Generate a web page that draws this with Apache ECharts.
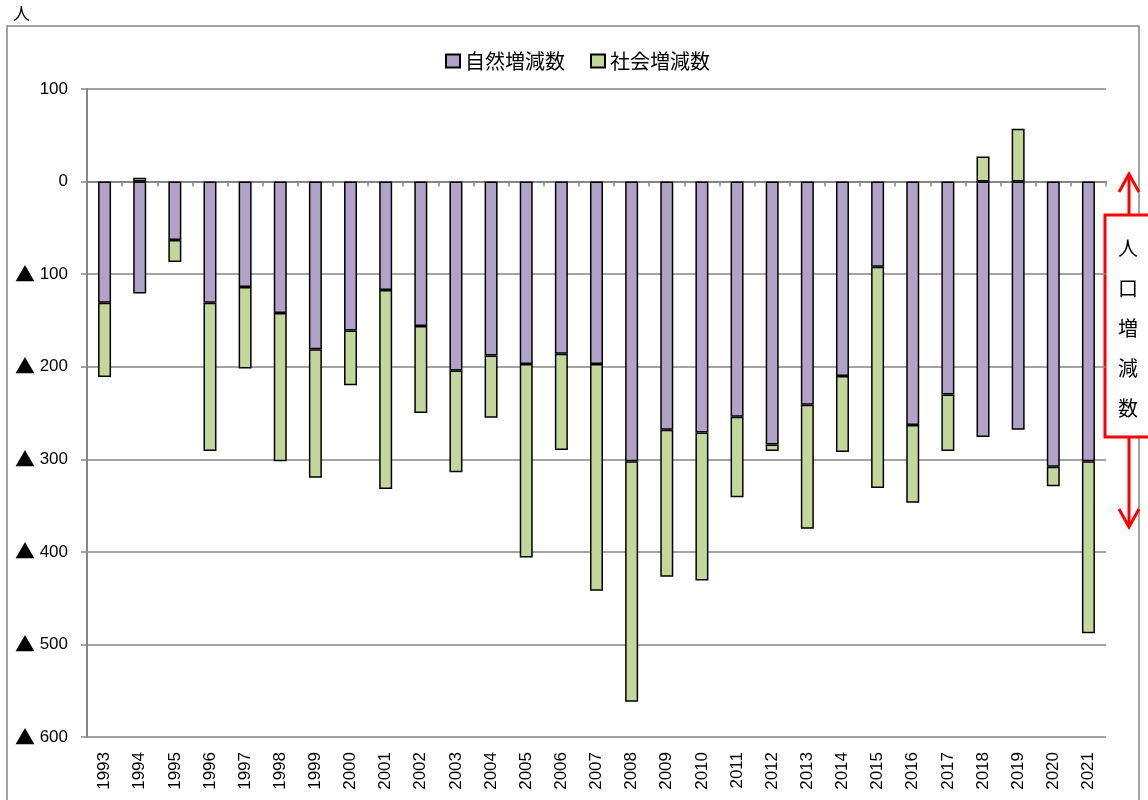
<!DOCTYPE html>
<html>
<head>
<meta charset="utf-8">
<script src="https://cdn.jsdelivr.net/npm/echarts@6/dist/echarts.min.js"></script>
<style>
html, body { margin: 0; padding: 0; background: #fff; }
#main { width: 1148px; height: 800px; }
</style>
</head>
<body>
<div id="main"></div>
<script>
var years = ['1993', '1994', '1995', '1996', '1997', '1998', '1999', '2000', '2001', '2002',
    '2003', '2004', '2005', '2006', '2007', '2008', '2009', '2010', '2011', '2012',
    '2013', '2014', '2015', '2016', '2017', '2018', '2019', '2020', '2021'];
// 自然増減数
var naturalChange = [-131, -121, -63, -131, -114, -142, -181, -161, -117, -156,
    -204, -188, -197, -186, -197, -302, -268, -271, -254, -284,
    -241, -210, -92, -263, -230, -276, -268, -308, -302];
// 社会増減数
var socialChange = [-80, 4, -24, -160, -88, -160, -139, -59, -215, -94,
    -110, -67, -209, -104, -245, -260, -159, -160, -87, -7,
    -134, -82, -239, -84, -61, 27, 57, -21, -186];
var seriesNames = ['自然増減数', '社会増減数'];
var yTicks = { min: -600, max: 100, interval: 100 };

var jpFont = '"Noto Sans CJK JP", sans-serif';
var numFont = '"Liberation Sans", sans-serif';
var gray = '#868686';

var myChart = echarts.init(document.getElementById('main'));

// negative numbers are written with a ▲ in front
function yLabel(v) {
    if (v < 0) return '{tri|▲} ' + Math.abs(v);
    return String(v);
}

var option = {
    animation: false,
    grid: { left: 87, right: 42, top: 89, bottom: 63 },
    legend: {
        data: seriesNames,
        top: 46,
        left: 440,
        icon: 'rect',
        itemWidth: 14,
        itemHeight: 13,
        itemGap: 25,
        textStyle: { fontFamily: jpFont, fontSize: 20, color: '#000' }
    },
    xAxis: [{
        type: 'category',
        data: years,
        axisLine: { onZero: true, lineStyle: { color: gray, width: 2 } },
        axisTick: { show: true, length: 5, lineStyle: { color: gray, width: 1.5 } },
        axisLabel: { show: false }
    }, {
        type: 'category',
        data: years,
        position: 'bottom',
        axisLine: { show: false, onZero: false },
        axisTick: { show: false },
        axisLabel: {
            rotate: 90,
            margin: 15,
            fontFamily: numFont,
            fontSize: 17,
            color: '#000'
        }
    }],
    yAxis: {
        type: 'value',
        min: yTicks.min,
        max: yTicks.max,
        interval: yTicks.interval,
        axisLine: { show: true, lineStyle: { color: gray, width: 2 } },
        axisTick: { show: true, length: 6, lineStyle: { color: gray, width: 1.5 } },
        splitLine: { lineStyle: { color: gray, width: 1.5 } },
        axisLabel: {
            formatter: yLabel,
            margin: 19,
            fontFamily: numFont,
            fontSize: 17,
            color: '#000',
            rich: {
                tri: { fontFamily: jpFont, fontSize: 20, color: '#000' }
            }
        }
    },
    series: [{
        name: seriesNames[0],
        type: 'bar',
        stack: 'total',
        barWidth: 13,
        data: naturalChange,
        itemStyle: { color: '#b3a2c7', borderColor: '#000', borderWidth: 1.5 }
    }, {
        name: seriesNames[1],
        type: 'bar',
        stack: 'total',
        barWidth: 13,
        data: socialChange,
        itemStyle: { color: '#c4d79b', borderColor: '#000', borderWidth: 1.5 }
    }],
    graphic: [
        // outer frame
        { type: 'rect', shape: { x: 7, y: 26, width: 1132, height: 790 },
          style: { fill: 'none', stroke: gray, lineWidth: 1.5 }, silent: true, z: -1 },
        { type: 'text', left: 13, top: 5,
          style: { text: '人', fontFamily: jpFont, fontSize: 17, fill: '#000' } },
        // red annotation
        { type: 'polyline', shape: { points: [[1129, 215], [1129, 174]] },
          style: { stroke: '#ff0000', lineWidth: 3, fill: 'none' } },
        { type: 'polyline', shape: { points: [[1119, 192], [1129, 174], [1139, 192]] },
          style: { stroke: '#ff0000', lineWidth: 3, fill: 'none' } },
        { type: 'polyline', shape: { points: [[1129, 437], [1129, 527]] },
          style: { stroke: '#ff0000', lineWidth: 3, fill: 'none' } },
        { type: 'polyline', shape: { points: [[1119, 509], [1129, 527], [1139, 509]] },
          style: { stroke: '#ff0000', lineWidth: 3, fill: 'none' } },
        { type: 'rect', shape: { x: 1105, y: 215, width: 50, height: 222 },
          style: { fill: '#fff', stroke: '#ff0000', lineWidth: 3 } },
        { type: 'text', x: 1128, y: 228,
          style: { text: '人\n口\n増\n減\n数', fontFamily: jpFont, fontSize: 20,
                   lineHeight: 40, align: 'center', fill: '#000' } }
    ]
};
myChart.setOption(option);
</script>
</body>
</html>
